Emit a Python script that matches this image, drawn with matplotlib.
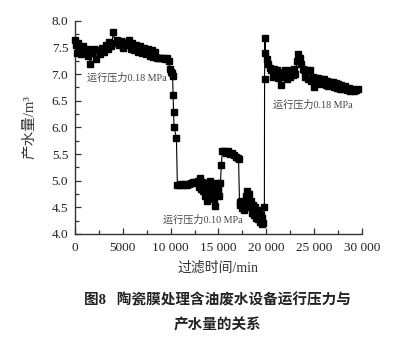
import matplotlib
matplotlib.use("Agg")
import matplotlib.pyplot as plt
from matplotlib.ticker import MultipleLocator, FuncFormatter

plt.rcParams['font.family'] = ['Liberation Serif', 'Noto Sans CJK SC', 'DejaVu Sans']

# ---- data ----
time_min = [0, 100, 200, 300, 400, 600, 800, 1000, 1200, 1400, 1600, 1800, 2000, 2200, 2400,
            2600, 2800, 3000, 3200, 3400, 3600, 3800, 4000, 4200, 4400, 4600, 4800, 5000, 5200,
            5400, 5600, 5800, 6000, 6200, 6400, 6600, 6800, 7000, 7200, 7400, 7600, 7800, 8000,
            8200, 8400, 8600, 8800, 9000, 9200, 9400, 9600, 9800, 9900, 10000, 10100, 10200,
            10250, 10300, 10350, 10600, 10700,
            10900, 11100, 11300, 11500, 11700, 11900, 12100, 12300, 12500, 12700, 12900, 13000,
            13100, 13200, 13300, 13400, 13500, 13600, 13700, 13800, 13900, 14000, 14100, 14200,
            14300, 14400, 14500, 14600, 14700, 14800, 14900, 15000, 15100, 15200, 15300, 15400,
            15600, 15800, 16000, 16200, 16400, 16600, 16800, 17000, 17100, 17200, 17300, 17400,
            17500, 17600, 17700, 17800, 17900, 18000, 18100, 18200, 18300, 18400, 18500, 18600,
            18700, 18800, 18900, 19000, 19100, 19200, 19300, 19400, 19500, 19600, 19700, 19800,
            19820, 19860, 19900, 20050, 20200, 20350,
            20500, 20650, 20800, 20950, 21100, 21250, 21400, 21550, 21700, 21850, 22000, 22150,
            22300, 22450, 22600, 22750, 22900, 23050, 23200, 23350, 23500, 23650, 23800, 23950,
            24100, 24250, 24400, 24550, 24700, 24850, 25000, 25150, 25300, 25450, 25600, 25750,
            25900, 26050, 26200, 26350, 26500, 26650, 26800, 26950, 27100, 27250, 27400, 27550,
            27700, 27850, 28000, 28200, 28400, 28600, 28800, 29000, 29200, 29400, 29600]

water_m3 = [7.65, 7.55, 7.40, 7.58, 7.45, 7.38, 7.52, 7.42, 7.48, 7.35, 7.20, 7.40, 7.48, 7.28, 7.45,
            7.38, 7.50, 7.42, 7.55, 7.48, 7.60, 7.52, 7.79, 7.58, 7.65, 7.55, 7.62, 7.50, 7.60,
            7.55, 7.65, 7.48, 7.58, 7.45, 7.55, 7.42, 7.52, 7.40, 7.50, 7.38, 7.48, 7.35, 7.45,
            7.32, 7.42, 7.30, 7.30, 7.30, 7.30, 7.28, 7.30, 7.25, 7.10, 7.05, 7.02, 6.97,
            6.61, 6.29, 6.01, 5.80, 4.92,
            4.92, 4.93, 4.92, 4.93, 4.92, 4.94, 4.95, 4.97, 4.98, 4.95, 5.00, 4.88,
            5.05, 4.85, 4.98, 4.80, 4.95, 4.72, 4.90, 4.62, 4.85, 4.68, 5.00, 4.75,
            4.92, 4.78, 4.65, 4.52, 4.82, 4.95, 4.80, 4.88, 4.72, 4.95, 5.30, 5.55,
            5.55, 5.52, 5.55, 5.50, 5.52, 5.48, 5.45, 5.42, 5.40, 4.60, 4.55, 4.62,
            4.48, 4.58, 4.45, 4.55, 4.72, 4.80, 4.65, 4.75, 4.50, 4.62, 4.40, 4.55,
            4.35, 4.50, 4.30, 4.45, 4.28, 4.40, 4.22, 4.35, 4.18, 4.30, 4.20, 4.50,
            6.90, 7.67, 7.39, 7.28, 7.20, 7.12,
            7.08, 6.95, 7.10, 7.00, 7.08, 6.92, 7.05, 6.80, 7.02, 6.95, 7.08, 6.90,
            7.05, 6.95, 7.08, 6.98, 7.10, 7.00, 7.25, 7.38, 7.30, 7.20, 7.10, 7.08,
            6.95, 7.08, 6.90, 7.08, 6.88, 6.95, 6.76, 6.92, 6.85, 6.92, 6.82, 6.90,
            6.85, 6.90, 6.80, 6.88, 6.78, 6.86, 6.80, 6.85, 6.76, 6.84, 6.74, 6.82,
            6.72, 6.80, 6.72, 6.78, 6.70, 6.74, 6.68, 6.72, 6.68, 6.70, 6.72]

annotations = ["运行压力0.18 MPa", "运行压力0.18 MPa", "运行压力0.10 MPa"]
annot_x = [1250, 20700, 9200]
annot_y = [6.93, 6.42, 4.26]

x_label = "过滤时间/min"
y_label = "产水量/m³"
caption1 = "图8   陶瓷膜处理含油废水设备运行压力与"
caption2 = "产水量的关系"

# ---- figure ----
fig = plt.figure(figsize=(4.08, 3.43), dpi=100)
ax = fig.add_axes([0.184, 0.318, 0.703, 0.621])

ax.plot(time_min, water_m3, color='black', lw=0.8, marker='s', markersize=5.0,
        markerfacecolor='black', markeredgecolor='black', clip_on=False, zorder=3)

ax.set_xlim(0, 30000)
ax.set_ylim(4.0, 8.0)

for s in ['top', 'right']:
    ax.spines[s].set_visible(False)
for s in ['left', 'bottom']:
    ax.spines[s].set_color('#333333')
    ax.spines[s].set_linewidth(1.0)

ax.xaxis.set_major_locator(MultipleLocator(5000))
ax.xaxis.set_minor_locator(MultipleLocator(2500))
ax.yaxis.set_major_locator(MultipleLocator(0.5))
ax.yaxis.set_minor_locator(MultipleLocator(0.25))

def fmt_x(v, pos):
    v = int(round(v))
    if v >= 10000:
        return f"{v:,}".replace(",", " ")
    return str(v)

ax.xaxis.set_major_formatter(FuncFormatter(fmt_x))
ax.yaxis.set_major_formatter(FuncFormatter(lambda v, p: f"{v:.1f}"))

ax.tick_params(axis='both', which='both', direction='in', colors='#333333',
               labelcolor='#222222', labelsize=9.5, width=0.9)
ax.tick_params(axis='both', which='major', length=4)
ax.tick_params(axis='both', which='minor', length=3)
ax.tick_params(axis='x', pad=6)
ax.tick_params(axis='y', pad=5)

ax.set_xlabel(x_label, fontsize=10, color='#333333', labelpad=5)
ax.set_ylabel(y_label, fontsize=10.5, color='#333333', labelpad=11)

for txt, tx, ty in zip(annotations, annot_x, annot_y):
    ax.text(tx, ty, txt, fontsize=7.3, color='#444444', ha='left', va='center')

fig.text(0.532, 1 - 300 / 343, caption1, fontsize=10.5, fontweight='bold',
         color='#222222', ha='center', va='center')
fig.text(0.532, 1 - 325 / 343, caption2, fontsize=10.5, fontweight='bold',
         color='#222222', ha='center', va='center')

fig.savefig("out.png", dpi=100)
